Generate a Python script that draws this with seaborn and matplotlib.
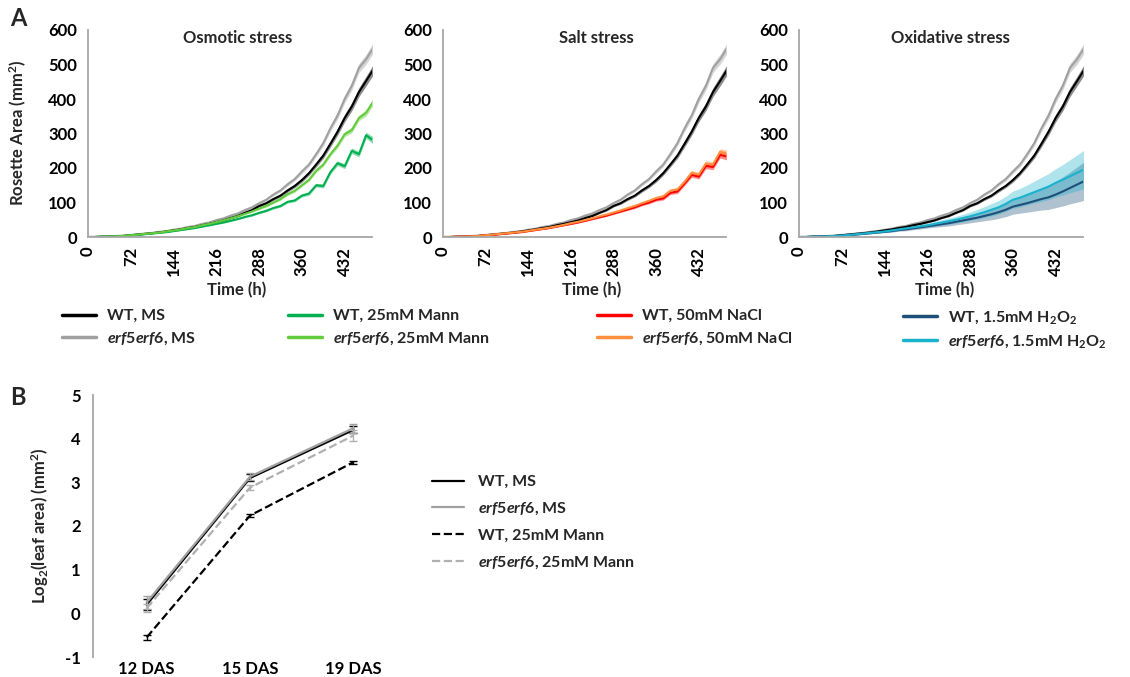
import numpy as np
import pandas as pd
import seaborn as sns
import matplotlib.pyplot as plt
from matplotlib.lines import Line2D

# time axis of the growth curves (h)
time_h = list(range(0, 481, 12))

# rosette area (mm2)
wt_ms = [0, 0, 1, 1, 2, 3, 5, 7, 9, 11, 13, 16, 19, 22, 26, 29, 34, 38, 43, 48, 55,
         61, 70, 78, 90, 98, 110, 120, 135, 148, 165, 185, 210, 236, 270, 305, 345, 378, 420, 452, 485]
erf_ms = [0, 0, 1, 2, 3, 4, 6, 8, 10, 12, 15, 17, 21, 24, 29, 32, 38, 42, 49, 54, 62,
          68, 78, 86, 98, 108, 123, 135, 153, 168, 190, 210, 240, 272, 315, 352, 400, 438, 490, 515, 548]
wt_mann = [0, 0, 1, 1, 2, 3, 5, 6, 8, 10, 12, 14, 17, 20, 23, 26, 30, 34, 38, 42, 47,
           52, 58, 63, 70, 76, 84, 90, 102, 106, 120, 126, 150, 148, 188, 214, 205, 250, 240, 295, 280]
erf_mann = [0, 0, 1, 1, 2, 3, 5, 7, 9, 11, 13, 16, 19, 22, 26, 29, 34, 38, 43, 48, 54,
            60, 67, 74, 82, 90, 100, 110, 124, 134, 150, 166, 192, 210, 240, 265, 298, 310, 345, 360, 392]
wt_nacl = [0, 0, 1, 1, 2, 3, 5, 6, 8, 10, 12, 14, 17, 20, 23, 26, 30, 34, 38, 42, 47,
           52, 57, 62, 68, 74, 80, 86, 94, 100, 108, 112, 128, 132, 155, 180, 175, 206, 203, 238, 233]
erf_nacl = [0, 0, 1, 1, 2, 3, 5, 7, 9, 11, 13, 15, 18, 21, 24, 27, 31, 35, 40, 44, 49,
            54, 60, 65, 71, 77, 84, 90, 98, 105, 113, 118, 134, 138, 160, 186, 181, 213, 210, 247, 242]
wt_h2o2 = [0, 0, 1, 1, 2, 3, 4, 6, 7, 9, 11, 13, 15, 17, 20, 22, 25, 28, 31, 34, 37,
           40, 44, 48, 52, 56, 61, 66, 72, 79, 88, 93, 98, 104, 110, 115, 123, 132, 142, 152, 162]
erf_h2o2 = [0, 0, 1, 1, 2, 3, 4, 6, 8, 10, 12, 14, 16, 19, 22, 25, 28, 31, 34, 38, 42,
            46, 50, 55, 60, 66, 72, 79, 86, 96, 108, 114, 122, 130, 138, 146, 157, 166, 176, 186, 196]

# error bands
se_ms = [0, 0, 0, 0, 0, 0, 0.5, 0.5, 0.5, 0.5, 1, 1, 1, 1, 1, 1.5, 1.5, 1.5, 2, 2, 2,
         2.5, 2.5, 3, 3, 3.5, 4, 4, 5, 5, 6, 6, 7, 8, 9, 10, 11, 12, 13, 14, 15]
se_stress = [0, 0, 0, 0, 0, 0, 0, 0.5, 0.5, 0.5, 0.5, 1, 1, 1, 1, 1, 1, 1.5, 1.5, 1.5, 2,
             2, 2, 2.5, 2.5, 3, 3, 3.5, 3.5, 4, 4, 5, 5, 6, 6, 7, 7, 8, 8, 9, 10]
se_wt_h2o2 = [0, 0, 0, 0, 0.5, 0.5, 1, 1, 1, 1.5, 2, 2, 2.5, 3, 3, 4, 4, 5, 5, 6, 7,
              8, 9, 10, 11, 12, 14, 16, 18, 20, 22, 24, 26, 29, 32, 35, 38, 42, 46, 51, 56]
se_erf_h2o2 = [0, 0, 0, 0, 0.5, 0.5, 1, 1, 1.5, 1.5, 2, 2.5, 3, 3, 3.5, 4, 4.5, 5, 6, 7, 8,
               9, 10, 11, 12, 14, 16, 18, 20, 22, 25, 27, 29, 32, 35, 38, 41, 44, 48, 52, 56]

# panel B: log2 leaf area
das = ['12 DAS', '15 DAS', '19 DAS']
b_wt_ms = [0.20, 3.10, 4.20]
b_erf_ms = [0.25, 3.13, 4.24]
b_wt_mann = [-0.55, 2.24, 3.46]
b_erf_mann = [0.12, 2.88, 4.07]
b_wt_ms_se = [0.12, 0.08, 0.08]
b_erf_ms_se = [0.14, 0.08, 0.10]
b_wt_mann_se = [0.05, 0.03, 0.04]
b_erf_mann_se = [0.10, 0.06, 0.13]

titles = ['Osmotic stress', 'Salt stress', 'Oxidative stress']

c_wt_ms, c_erf_ms = '#000000', '#a0a0a0'
c_wt_mann, c_erf_mann = '#00b050', '#62cc3c'
c_wt_nacl, c_erf_nacl = '#ff0000', '#ff8f3c'
c_wt_h2o2, c_erf_h2o2 = '#1f4e79', '#1ab2cc'
axis_c = '#a6a6a6'

sns.set_theme(style='white')
plt.rcParams['font.family'] = ['Lato', 'DejaVu Sans']
plt.rcParams['font.weight'] = 'bold'
plt.rcParams['mathtext.fontset'] = 'custom'
plt.rcParams['mathtext.rm'] = 'Lato:bold'
plt.rcParams['mathtext.it'] = 'Lato:italic:bold'
plt.rcParams['mathtext.bf'] = 'Lato:bold'
plt.rcParams['axes.unicode_minus'] = False

FS = 12
W, H = 1130, 677
fig = plt.figure(figsize=(W / 100, H / 100), dpi=100)


def box(x0, x1, ytop, ybot):
    return [x0 / W, 1 - ybot / H, (x1 - x0) / W, (ybot - ytop) / H]


def style_axis(ax):
    for s in ['top', 'right']:
        ax.spines[s].set_visible(False)
    for s in ['left', 'bottom']:
        ax.spines[s].set_color(axis_c)
        ax.spines[s].set_linewidth(1.3)
    ax.tick_params(colors=axis_c, labelcolor='black', labelsize=FS)


# treatment series for each panel: (name, values, se, color)
panels = [
    [('WT, 25mM Mann', wt_mann, se_stress, c_wt_mann),
     ('erf5erf6, 25mM Mann', erf_mann, se_stress, c_erf_mann)],
    [('WT, 50mM NaCl', wt_nacl, se_stress, c_wt_nacl),
     ('erf5erf6, 50mM NaCl', erf_nacl, se_stress, c_erf_nacl)],
    [('WT, 1.5mM H2O2', wt_h2o2, se_wt_h2o2, c_wt_h2o2),
     ('erf5erf6, 1.5mM H2O2', erf_h2o2, se_erf_h2o2, c_erf_h2o2)],
]
axes_x = [(88, 372), (443, 726), (799, 1083)]
title_x = [238, 596, 950]
xlabel_x = [237, 592, 945]

for i, (x0, x1) in enumerate(axes_x):
    ax = fig.add_axes(box(x0, x1, 30, 237))
    series = [('erf5erf6, MS', erf_ms, se_ms, c_erf_ms),
              ('WT, MS', wt_ms, se_ms, c_wt_ms)] + panels[i]
    for name, vals, se, col in series:
        lo = np.array(vals) - np.array(se)
        hi = np.array(vals) + np.array(se)
        alpha = 0.35 if i == 2 and name not in ('WT, MS', 'erf5erf6, MS') else 0.45
        ax.fill_between(time_h, lo, hi, color=col, alpha=alpha, lw=0)
        d = pd.DataFrame({'time': time_h, 'area': vals})
        sns.lineplot(data=d, x='time', y='area', color=col, lw=1.5,
                     errorbar=None, ax=ax, legend=False)
    ax.set_xlim(0, 478)
    ax.set_ylim(0, 600)
    ticks = list(range(0, 478, 24))
    ax.set_xticks(ticks)
    ax.set_xticklabels([str(t) if t % 72 == 0 else '' for t in ticks])
    ax.set_yticks(range(0, 601, 100))
    ax.set_xlabel('')
    ax.set_ylabel('')
    style_axis(ax)
    ax.tick_params(axis='x', rotation=90, length=5, width=1, pad=2, direction='out')
    ax.tick_params(axis='y', length=3, width=1, pad=5, direction='out')
    fig.text(title_x[i] / W, 1 - 38 / H, titles[i], ha='center', va='center', fontsize=FS)
    fig.text(xlabel_x[i] / W, 1 - 290 / H, 'Time (h)', ha='center', va='center', fontsize=FS)

fig.text(18 / W, 1 - 133 / H, 'Rosette Area (mm$^{2}$)', rotation=90,
         ha='center', va='center', fontsize=FS)
fig.text(18 / W, 1 - 18 / H, 'A', ha='center', va='center', fontsize=17)
fig.text(18 / W, 1 - 397 / H, 'B', ha='center', va='center', fontsize=17)

# legend of panel A, four columns of two entries
leg_cols = [
    (62, [('WT, MS', c_wt_ms), ('$\\mathit{erf5erf6}$, MS', c_erf_ms)]),
    (288, [('WT, 25mM Mann', c_wt_mann), ('$\\mathit{erf5erf6}$, 25mM Mann', c_erf_mann)]),
    (597, [('WT, 50mM NaCl', c_wt_nacl), ('$\\mathit{erf5erf6}$, 50mM NaCl', c_erf_nacl)]),
    (903, [('WT, 1.5mM $\\mathrm{H_2O_2}$', c_wt_h2o2),
           ('$\\mathit{erf5erf6}$, 1.5mM $\\mathrm{H_2O_2}$', c_erf_h2o2)]),
]
for x, entries in leg_cols:
    handles = [Line2D([0], [0], color=c, lw=2.5) for _, c in entries]
    fig.legend(handles, [l for l, _ in entries], loc='upper left',
               bbox_to_anchor=(x / W, 1 - 309 / H), frameon=False,
               borderaxespad=0, borderpad=0, handlelength=2.1,
               handletextpad=0.7, labelspacing=0.45, fontsize=11.5)

# panel B
axb = fig.add_axes(box(93, 405, 395, 657))
b_series = [
    ('WT, MS', b_wt_ms, b_wt_ms_se, c_wt_ms, '-'),
    ('$\\mathit{erf5erf6}$, MS', b_erf_ms, b_erf_ms_se, c_erf_ms, '-'),
    ('WT, 25mM Mann', b_wt_mann, b_wt_mann_se, c_wt_ms, '--'),
    ('$\\mathit{erf5erf6}$, 25mM Mann', b_erf_mann, b_erf_mann_se, '#b0b0b0', '--'),
]
pos = list(range(len(das)))
for name, vals, se, col, ls in b_series:
    d = pd.DataFrame({'x': pos, 'y': vals})
    sns.lineplot(data=d, x='x', y='y', color=col, lw=1.6, linestyle=ls,
                 errorbar=None, ax=axb, legend=False)
    axb.errorbar(pos, vals, yerr=se, fmt='none', ecolor=col, elinewidth=1, capsize=3)
axb.set_xlim(-0.52, 2.5)
axb.set_ylim(-1, 5)
axb.set_xticks(pos)
axb.set_xticklabels(das)
axb.set_yticks(range(-1, 6))
axb.set_xlabel('')
axb.set_ylabel('')
style_axis(axb)
axb.spines['bottom'].set_visible(False)
axb.tick_params(axis='x', length=0, pad=3)
axb.tick_params(axis='y', length=3, width=1, pad=6)
fig.text(40 / W, 1 - 526 / H, 'Log$_2$(leaf area) (mm$^2$)', rotation=90,
         ha='center', va='center', fontsize=FS)

hb = [Line2D([0], [0], color=c, lw=1.6, ls=ls) for _, _, _, c, ls in b_series]
fig.legend(hb, [s[0] for s in b_series], loc='upper left',
           bbox_to_anchor=(432 / W, 1 - 475 / H), frameon=False,
           borderaxespad=0, borderpad=0, handlelength=2.0,
           handletextpad=0.9, labelspacing=0.72, fontsize=11.5)

fig.savefig('out.png', dpi=100)
